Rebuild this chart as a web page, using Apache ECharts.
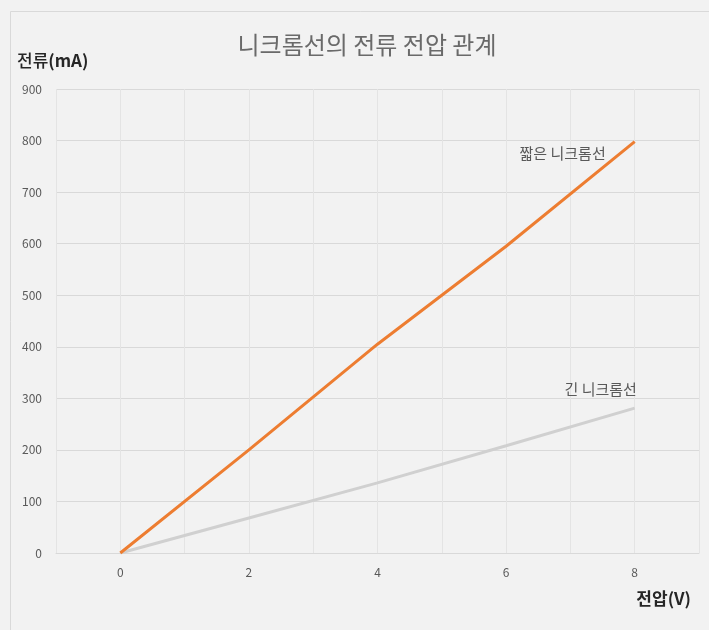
<!DOCTYPE html>
<html>
<head>
<meta charset="utf-8">
<script src="https://cdn.jsdelivr.net/npm/echarts@6/dist/echarts.min.js"></script>
<style>
    html, body { margin: 0; padding: 0; background: #fff; }
    #main { width: 709px; height: 630px; }
</style>
</head>
<body>
<div id="main"></div>
<script>
// 전압(V)
var voltage = [0, 2, 4, 6, 8];
// 짧은 니크롬선 전류(mA)
var shortWire = [0, 200, 405, 595, 798];
// 긴 니크롬선 전류(mA)
var longWire = [0, 68, 136, 208, 281];
var xTicks = [0, 2, 4, 6, 8];

var font = '"Noto Sans CJK KR", "Noto Sans", sans-serif';

function pairs(ys) {
    return voltage.map(function (v, i) {
        return [v, ys[i]];
    });
}

var shortData = pairs(shortWire);
var longData = pairs(longWire);

// 마지막 점에 이름 표시
shortData[shortData.length - 1] = {
    value: shortData[shortData.length - 1],
    label: {
        show: true, formatter: '짧은 니크롬선', position: 'left', distance: 5,
        offset: [-24, 12], color: '#595959', fontSize: 15, fontFamily: font
    }
};
longData[longData.length - 1] = {
    value: longData[longData.length - 1],
    label: {
        show: true, formatter: '긴 니크롬선', position: 'top', distance: 5,
        offset: [-34, -6], color: '#595959', fontSize: 15, fontFamily: font
    }
};

var myChart = echarts.init(document.getElementById('main'));
var option = {
    animation: false,
    backgroundColor: '#f2f2f2',
    graphic: [{
        type: 'rect',
        shape: { x: 10.5, y: 11.5, width: 720, height: 640 },
        style: { fill: 'none', stroke: '#d9d9d9', lineWidth: 1 },
        silent: true
    }],
    title: [{
        text: '니크롬선의 전류 전압 관계',
        left: 362,
        textAlign: 'center',
        top: 28,
        textStyle: { color: '#6a6a6a', fontSize: 24, fontWeight: 'normal', fontFamily: font }
    }, {
        // 세로축 이름
        text: '{a|전류}{b|(mA)}',
        left: 12,
        top: 47,
        textStyle: {
            rich: {
                a: { color: '#262626', fontSize: 17, fontWeight: 500, fontFamily: font },
                b: { color: '#262626', fontSize: 17, fontWeight: 'bold', fontFamily: font }
            }
        }
    }],
    grid: { left: 56, right: 10, top: 89, bottom: 77, containLabel: false },
    xAxis: {
        type: 'value',
        min: -1,
        max: 9,
        interval: 1,
        name: '전압(V)',
        nameLocation: 'end',
        nameGap: 0,
        nameTextStyle: {
            color: '#262626', fontSize: 17, fontWeight: 'bold', fontFamily: font,
            align: 'right', verticalAlign: 'top', padding: [37, 8, 0, 0]
        },
        axisLine: { lineStyle: { color: '#d9d9d9' } },
        axisTick: { show: false },
        axisLabel: {
            color: '#595959', fontSize: 12, fontFamily: font, margin: 13,
            formatter: function (v) {
                return xTicks.indexOf(v) >= 0 ? String(v) : '';
            }
        },
        splitLine: { show: true, lineStyle: { color: '#e4e4e4' } }
    },
    yAxis: {
        type: 'value',
        min: 0,
        max: 900,
        interval: 100,
        axisLine: { show: false },
        axisTick: { show: false },
        axisLabel: { color: '#595959', fontSize: 12, fontFamily: font, margin: 14 },
        splitLine: { show: true, lineStyle: { color: '#d9d9d9' } }
    },
    series: [{
        name: '짧은 니크롬선',
        type: 'line',
        data: shortData,
        showSymbol: true,
        symbol: 'circle',
        symbolSize: 0,
        lineStyle: { color: '#ed7d31', width: 3 },
        itemStyle: { color: '#ed7d31' },
        z: 3
    }, {
        name: '긴 니크롬선',
        type: 'line',
        data: longData,
        showSymbol: true,
        symbol: 'circle',
        symbolSize: 0,
        lineStyle: { color: '#d0d0d0', width: 3 },
        itemStyle: { color: '#d0d0d0' },
        z: 2
    }]
};

option && myChart.setOption(option);
</script>
</body>
</html>
